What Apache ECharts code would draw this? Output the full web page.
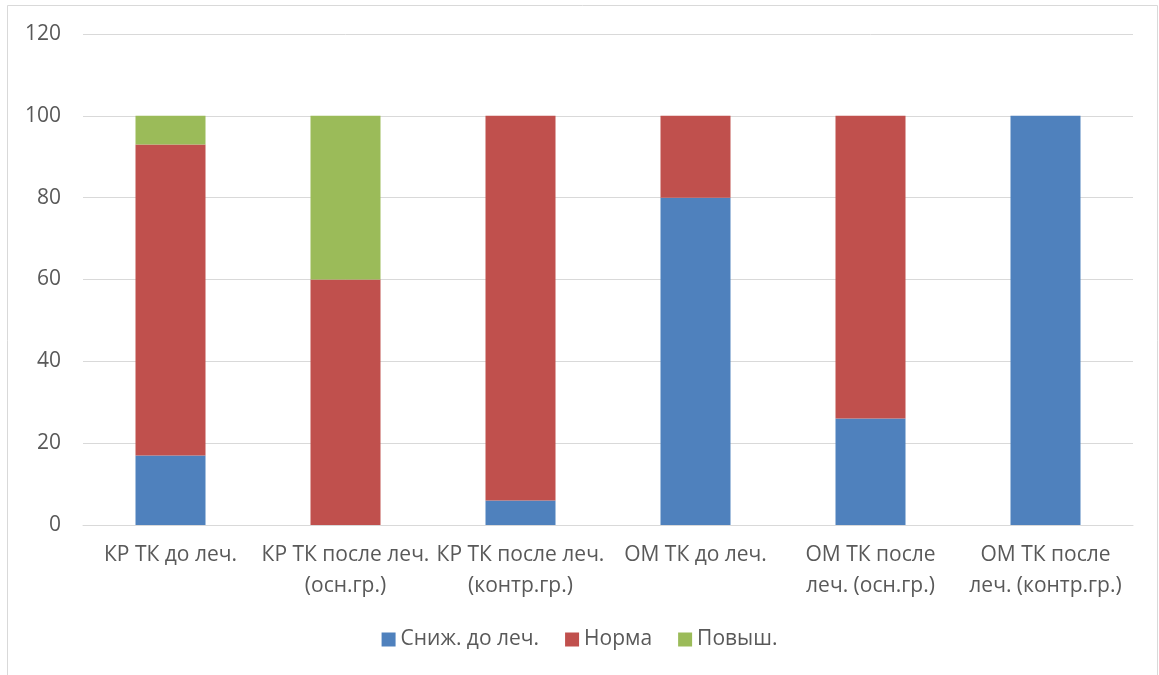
<!DOCTYPE html>
<html>
<head>
<meta charset="utf-8">
<script src="https://cdn.jsdelivr.net/npm/echarts@6/dist/echarts.min.js"></script>
<style>
  html, body { margin: 0; padding: 0; background: #fff; }
  #chart { width: 1159px; height: 675px; }
</style>
</head>
<body>
<div id="chart"></div>
<script>
// Categories (groups of patients)
const categories = [
  'КР ТК до леч.',
  'КР ТК после леч.\n(осн.гр.)',
  'КР ТК после леч.\n(контр.гр.)',
  'ОМ ТК до леч.',
  'ОМ ТК после\nлеч. (осн.гр.)',
  'ОМ ТК после\nлеч. (контр.гр.)'
];

// Series values, %
const lowered = [17, 0, 6, 80, 26, 100];
const normal = [76, 60, 94, 20, 74, 0];
const raised = [7, 40, 0, 0, 0, 0];

const seriesNames = ['Сниж. до леч.', 'Норма', 'Повыш.'];
const colors = ['#4f81bd', '#c0504d', '#9bbb59'];

const fontFamily = '"Open Sans", "Noto Sans", sans-serif';
const chart = echarts.init(document.getElementById('chart'), null, { renderer: 'canvas' });

chart.setOption({
  animation: false,
  backgroundColor: '#fff',
  graphic: [{
    type: 'rect',
    shape: { x: 7.5, y: 5.5, width: 1150, height: 680 },
    style: { fill: 'none', stroke: '#d9d9d9', lineWidth: 1 },
    silent: true
  }],
  grid: { left: 83, right: 26, top: 34, bottom: 150 },
  legend: {
    top: 624,
    left: 'center',
    itemWidth: 14,
    itemHeight: 14,
    itemGap: 26,
    icon: 'rect',
    textStyle: { color: '#595959', fontSize: 21, fontFamily: fontFamily },
    data: seriesNames
  },
  xAxis: {
    type: 'category',
    data: categories,
    axisLine: { lineStyle: { color: '#d9d9d9', width: 1 } },
    axisTick: { show: false },
    axisLabel: {
      color: '#595959',
      fontSize: 21,
      fontFamily: fontFamily,
      lineHeight: 31,
      margin: 15,
      interval: 0
    }
  },
  yAxis: {
    type: 'value',
    min: 0,
    max: 120,
    interval: 20,
    axisLine: { show: false },
    axisTick: { show: false },
    axisLabel: { color: '#595959', fontSize: 21, fontFamily: fontFamily, margin: 22 },
    splitLine: { lineStyle: { color: '#d9d9d9', width: 1 } }
  },
  series: [lowered, normal, raised].map((vals, i) => ({
    name: seriesNames[i],
    type: 'bar',
    stack: 'total',
    data: vals,
    barWidth: '40%',
    itemStyle: { color: colors[i] }
  }))
});
</script>
</body>
</html>
